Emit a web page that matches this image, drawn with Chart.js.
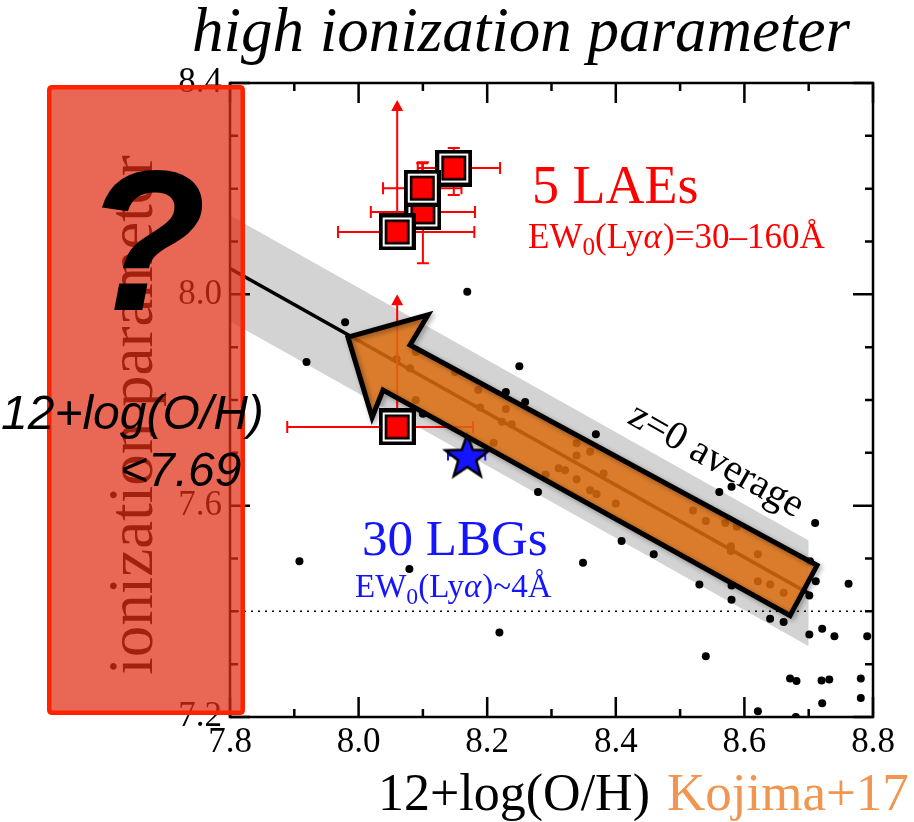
<!DOCTYPE html>
<html><head><meta charset="utf-8">
<script src="https://cdn.jsdelivr.net/npm/chart.js@4.4.0/dist/chart.umd.min.js"></script>
<style>html,body{margin:0;padding:0;background:#fff;}#wrap{width:914px;height:822px;position:relative;}</style>
</head><body><div id="wrap"><canvas id="c" width="914" height="822"></canvas></div>
<script>
// ---------- axes ----------
const xTickValues = [7.8, 8.0, 8.2, 8.4, 8.6, 8.8];
const xTickLabels = ['7.8', '8.0', '8.2', '8.4', '8.6', '8.8'];
const xMinorTicks = [7.9, 8.1, 8.3, 8.5, 8.7];
const yTickValues = [7.2, 7.6, 8.0, 8.4];
const yTickLabels = ['7.2', '7.6', '8.0', '8.4'];
const yMinorTicks = [7.3, 7.4, 7.5, 7.7, 7.8, 7.9, 8.1, 8.2, 8.3];

// ---------- z=0 average relation and its scatter ----------
const z0X = [7.8, 8.7];
const z0Y = [8.049, 7.434];
const z0Upper = [8.149, 7.534];
const z0Lower = [7.949, 7.334];
const limitX = [7.8, 8.8];
const limitY = [7.4, 7.4];

const z0SampleX = [8.169,7.979,7.919,8.100,8.250,8.369,8.279,8.409,8.229,8.259,8.561,8.580,8.710,8.459,8.349,8.530,8.580,8.580,8.702,8.711,8.701,8.762,8.640,8.661,8.701,8.721,8.740,8.791,8.540,8.671,8.681,8.720,8.732,8.781,8.721,8.781,8.621,8.680,7.908,8.079,8.219,
  8.059,8.080,8.089,8.089,8.150,8.186,8.189,8.229,8.223,8.238,8.210,8.339,8.360,8.339,8.311,8.321,8.381,8.339,8.360,8.370,8.400,8.291,8.520,8.540,8.570,8.588,8.579,8.579,8.621,8.621,8.640,8.661];
const z0SampleY = [8.005,7.947,7.872,7.774,7.864,7.735,7.626,7.533,7.815,7.796,7.626,7.636,7.567,7.508,7.492,7.451,7.449,7.422,7.495,7.457,7.430,7.452,7.386,7.380,7.356,7.367,7.353,7.353,7.315,7.273,7.268,7.269,7.271,7.273,7.226,7.236,7.211,7.200,7.495,7.480,7.360,
  7.877,7.860,7.891,7.800,7.853,7.819,7.786,7.783,7.759,7.754,7.719,7.718,7.702,7.695,7.671,7.667,7.661,7.650,7.629,7.622,7.604,7.659,7.591,7.571,7.567,7.560,7.523,7.514,7.508,7.457,7.451,7.435];

// ---------- 5 LAEs ----------
const laeX  = [8.100, 8.148, 8.099, 8.060, 8.060];
const laeY  = [8.156, 8.239, 8.201, 8.118, 7.749];
const laeXLo = [8.019, 8.092, 8.038, 7.968, 7.889];
const laeXHi = [8.181, 8.220, 8.160, 8.180, 8.178];
const laeYLo = [8.059, 8.188, 8.160, null, null];
const laeYHi = [8.250, 8.277, 8.248, 8.368, 8.000];
const laeLowerLimit = [false, false, false, true, true];

// ---------- 30 LBGs (stack) ----------
const lbgX = [8.169];
const lbgY = [7.695];
const lbgXLo = [8.139];
const lbgXHi = [8.197];

// ---------- annotation arrow (data coords) ----------
const arrowX = [7.9835, 8.108, 8.080, 8.713, 8.671, 8.038, 8.021];
const arrowY = [7.919, 7.961, 7.904, 7.487, 7.392, 7.819, 7.767];

const pts = (xs, ys) => xs.map((x, i) => ({x: x, y: ys[i]}));

function makeSquare() {
  const s = 37, c = document.createElement('canvas');
  c.width = s; c.height = s;
  const g = c.getContext('2d');
  g.fillStyle = '#000'; g.fillRect(0, 0, s, s);
  g.fillStyle = '#fff'; g.fillRect(4, 4, s - 8, s - 8);
  g.fillStyle = '#000'; g.fillRect(6, 6, s - 12, s - 12);
  g.fillStyle = '#ff0000'; g.fillRect(8.5, 8.5, s - 17, s - 17);
  return c;
}
function makeStar() {
  const s = 54, c = document.createElement('canvas');
  c.width = s; c.height = s;
  const g = c.getContext('2d');
  const cx = s / 2, cy = s / 2 + 2, R = 23, r = 9.5;
  g.beginPath();
  for (let i = 0; i < 10; i++) {
    const a = -Math.PI / 2 + i * Math.PI / 5;
    const rr = i % 2 ? r : R;
    const px = cx + rr * Math.cos(a), py = cy + rr * Math.sin(a);
    i ? g.lineTo(px, py) : g.moveTo(px, py);
  }
  g.closePath();
  g.fillStyle = '#1414ff'; g.fill();
  g.lineWidth = 2.5; g.strokeStyle = '#000'; g.lineJoin = 'miter'; g.stroke();
  return c;
}

const SERIF = '"Liberation Serif", "Times New Roman", serif';
const SANS = '"Liberation Sans", Arial, sans-serif';

function drawEW(ctx, x, y, size, color, tail) {
  ctx.fillStyle = color; ctx.textAlign = 'left'; ctx.textBaseline = 'alphabetic';
  const f = size + 'px ' + SERIF;
  ctx.font = f; ctx.fillText('EW', x, y); x += ctx.measureText('EW').width;
  ctx.font = (size * 0.72) + 'px ' + SERIF; ctx.fillText('0', x, y + size * 0.2); x += ctx.measureText('0').width;
  ctx.font = f; ctx.fillText('(Ly', x, y); x += ctx.measureText('(Ly').width;
  ctx.font = 'italic ' + size + 'px ' + SERIF; ctx.fillText('\u03b1', x, y); x += ctx.measureText('\u03b1').width + 1;
  ctx.font = f; ctx.fillText(tail, x, y);
}

function errorBarsPlugin() {
  return {
    id: 'errbars',
    beforeDatasetDraw(chart, args) {
      const ds = chart.data.datasets[args.index];
      const {ctx, scales: {x, y}} = chart;
      if (ds.label === 'LAE') {
        ctx.save();
        ctx.strokeStyle = '#ff0000'; ctx.fillStyle = '#ff0000'; ctx.lineWidth = 2;
        for (let i = 0; i < laeX.length; i++) {
          const px = x.getPixelForValue(laeX[i]), py = y.getPixelForValue(laeY[i]);
          const xl = x.getPixelForValue(laeXLo[i]), xh = x.getPixelForValue(laeXHi[i]);
          ctx.beginPath();
          ctx.moveTo(xl, py); ctx.lineTo(xh, py);
          ctx.moveTo(xl, py - 6); ctx.lineTo(xl, py + 6);
          ctx.moveTo(xh, py - 6); ctx.lineTo(xh, py + 6);
          ctx.stroke();
          const yh = y.getPixelForValue(laeYHi[i]);
          if (laeLowerLimit[i]) {
            ctx.beginPath(); ctx.moveTo(px, py); ctx.lineTo(px, yh + 8); ctx.stroke();
            ctx.beginPath(); ctx.moveTo(px, yh); ctx.lineTo(px - 6, yh + 11); ctx.lineTo(px + 6, yh + 11); ctx.closePath(); ctx.fill();
          } else {
            const yl = y.getPixelForValue(laeYLo[i]);
            ctx.beginPath();
            ctx.moveTo(px, yl); ctx.lineTo(px, yh);
            ctx.moveTo(px - 6, yl); ctx.lineTo(px + 6, yl);
            ctx.moveTo(px - 6, yh); ctx.lineTo(px + 6, yh);
            ctx.stroke();
          }
        }
        ctx.restore();
      } else if (ds.label === 'LBG') {
        ctx.save();
        ctx.strokeStyle = '#1414ff'; ctx.lineWidth = 2;
        for (let i = 0; i < lbgX.length; i++) {
          const py = y.getPixelForValue(lbgY[i]);
          const xl = x.getPixelForValue(lbgXLo[i]), xh = x.getPixelForValue(lbgXHi[i]);
          ctx.beginPath();
          ctx.moveTo(xl, py); ctx.lineTo(xh, py);
          ctx.moveTo(xl, py - 5); ctx.lineTo(xl, py + 5);
          ctx.moveTo(xh, py - 5); ctx.lineTo(xh, py + 5);
          ctx.stroke();
        }
        ctx.restore();
      }
    }
  };
}

const decorPlugin = {
  id: 'decor',
  afterDatasetsDraw(chart) {
    const {ctx, chartArea: a, scales: {x, y}} = chart;
    // orange arrow
    ctx.save();
    ctx.beginPath();
    arrowX.forEach((v, i) => {
      const px = x.getPixelForValue(v), py = y.getPixelForValue(arrowY[i]);
      i ? ctx.lineTo(px, py) : ctx.moveTo(px, py);
    });
    ctx.closePath();
    ctx.fillStyle = 'rgba(218,108,14,0.85)';
    ctx.fill();
    ctx.shadowColor = 'rgba(0,0,0,0.35)'; ctx.shadowBlur = 5; ctx.shadowOffsetX = 2; ctx.shadowOffsetY = 2;
    ctx.lineWidth = 5; ctx.lineJoin = 'miter'; ctx.miterLimit = 10; ctx.strokeStyle = '#000';
    ctx.stroke();
    ctx.restore();
    // frame + inward ticks
    ctx.save();
    ctx.strokeStyle = '#000'; ctx.lineWidth = 2.5;
    ctx.beginPath();
    const xt = (v, len) => { const p = x.getPixelForValue(v); ctx.moveTo(p, a.bottom); ctx.lineTo(p, a.bottom - len); ctx.moveTo(p, a.top); ctx.lineTo(p, a.top + len); };
    const yt = (v, len) => { const p = y.getPixelForValue(v); ctx.moveTo(a.left, p); ctx.lineTo(a.left + len, p); ctx.moveTo(a.right, p); ctx.lineTo(a.right - len, p); };
    xTickValues.forEach(v => xt(v, 20)); xMinorTicks.forEach(v => xt(v, 8));
    yTickValues.forEach(v => yt(v, 20)); yMinorTicks.forEach(v => yt(v, 8));
    ctx.stroke();
    ctx.lineWidth = 2.5;
    ctx.strokeRect(a.left, a.top, a.right - a.left, a.bottom - a.top);
    ctx.restore();
  },
  afterDraw(chart) {
    const ctx = chart.ctx;
    ctx.save();
    ctx.textBaseline = 'alphabetic'; ctx.textAlign = 'left';
    // title
    ctx.fillStyle = '#000'; ctx.font = 'italic 63px ' + SERIF;
    ctx.fillText('high ionization parameter', 192, 51);
    // LAE label
    ctx.fillStyle = '#ff0000'; ctx.font = '54px ' + SERIF;
    ctx.fillText('5 LAEs', 532, 203);
    drawEW(ctx, 528, 248, 35, '#ff0000', ')=30\u2013160\u00c5');
    // LBG label
    ctx.fillStyle = '#1414ff'; ctx.font = '51px ' + SERIF;
    ctx.fillText('30 LBGs', 362, 555);
    drawEW(ctx, 355, 597, 33, '#1414ff', ')~4\u00c5');
    // z=0 average
    ctx.save();
    ctx.translate(716, 461); ctx.rotate(29.5 * Math.PI / 180);
    ctx.fillStyle = '#000'; ctx.font = '40px ' + SERIF; ctx.textAlign = 'center'; ctx.textBaseline = 'middle';
    ctx.fillText('z=0 average', 0, 0);
    ctx.restore();
    // x title + credit
    ctx.fillStyle = '#000'; ctx.font = '52px ' + SERIF;
    ctx.fillText('12+log(O/H)', 378, 810);
    ctx.fillStyle = 'rgb(240,150,80)'; ctx.font = '53px ' + SERIF;
    ctx.fillText('Kojima+17', 667, 810);
    // y title (under overlay)
    ctx.save();
    ctx.translate(135, 415); ctx.rotate(-Math.PI / 2);
    ctx.fillStyle = '#000'; ctx.font = '63px ' + SERIF; ctx.textAlign = 'center'; ctx.textBaseline = 'middle';
    ctx.fillText('ionization parameter', 0, 0);
    ctx.restore();
    // red overlay box
    const rr = (x0, y0, w, h, r) => { ctx.beginPath(); ctx.moveTo(x0 + r, y0); ctx.lineTo(x0 + w - r, y0); ctx.quadraticCurveTo(x0 + w, y0, x0 + w, y0 + r); ctx.lineTo(x0 + w, y0 + h - r); ctx.quadraticCurveTo(x0 + w, y0 + h, x0 + w - r, y0 + h); ctx.lineTo(x0 + r, y0 + h); ctx.quadraticCurveTo(x0, y0 + h, x0, y0 + h - r); ctx.lineTo(x0, y0 + r); ctx.quadraticCurveTo(x0, y0, x0 + r, y0); ctx.closePath(); };
    rr(49.25, 87.25, 193.5, 625.5, 3);
    ctx.fillStyle = 'rgba(225,45,20,0.72)'; ctx.fill();
    ctx.lineWidth = 4.5; ctx.strokeStyle = '#ff2200'; ctx.stroke();
    // question mark & metallicity note
    ctx.fillStyle = '#000'; ctx.textAlign = 'center';
    ctx.font = 'italic bold 200px ' + SANS;
    ctx.fillText('?', 145, 310);
    ctx.textAlign = 'left'; ctx.font = 'italic 48px ' + SANS;
    ctx.fillText('12+log(O/H)', 1, 429);
    ctx.fillText('<7.69', 120, 486);
    ctx.restore();
  }
};

const canvas = document.getElementById('c');
new Chart(canvas.getContext('2d'), {
  type: 'scatter',
  data: {
    datasets: [
      {label: 'bandUpper', type: 'line', data: pts(z0X, z0Upper), borderWidth: 0, pointRadius: 0, fill: '+1', backgroundColor: '#d3d3d3', order: 20},
      {label: 'bandLower', type: 'line', data: pts(z0X, z0Lower), borderWidth: 0, pointRadius: 0, fill: false, order: 19},
      {label: 'limit', type: 'line', data: pts(limitX, limitY), borderColor: '#000', borderWidth: 1.5, borderDash: [2, 5], pointRadius: 0, fill: false, order: 18},
      {label: 'z0', type: 'line', data: pts(z0X, z0Y), borderColor: '#000', borderWidth: 3.5, pointRadius: 0, fill: false, order: 17},
      {label: 'sample', data: pts(z0SampleX, z0SampleY), pointRadius: 4, pointBackgroundColor: '#000', pointBorderWidth: 0, clip: 0, order: 16},
      {label: 'LBG', data: pts(lbgX, lbgY), pointStyle: makeStar(), pointRadius: 24, order: 15},
      {label: 'LAE', data: pts(laeX, laeY), pointStyle: makeSquare(), pointRadius: 19, order: 14}
    ]
  },
  options: {
    responsive: false, animation: false, devicePixelRatio: 1,
    layout: {padding: {left: 0, right: 41, top: 83, bottom: 0}},
    plugins: {legend: {display: false}, tooltip: {enabled: false}, title: {display: false}},
    scales: {
      x: {
        type: 'linear', min: 7.8, max: 8.8,
        grid: {display: false, drawTicks: false}, border: {display: false},
        afterBuildTicks: s => { s.ticks = xTickValues.map(v => ({value: v})); },
        afterFit: s => { s.height = 105; },
        ticks: {autoSkip: false, maxRotation: 0, padding: 5, color: '#000', font: {family: SERIF, size: 35},
          callback: (v, i) => xTickLabels[i]}
      },
      y: {
        type: 'linear', min: 7.2, max: 8.4,
        grid: {display: false, drawTicks: false}, border: {display: false},
        afterBuildTicks: s => { s.ticks = yTickValues.map(v => ({value: v})); },
        afterFit: s => { s.width = 230; },
        ticks: {autoSkip: false, padding: 8, color: '#000', font: {family: SERIF, size: 35},
          callback: (v, i) => yTickLabels[i]}
      }
    }
  },
  plugins: [errorBarsPlugin(), decorPlugin]
});
</script></body></html>
